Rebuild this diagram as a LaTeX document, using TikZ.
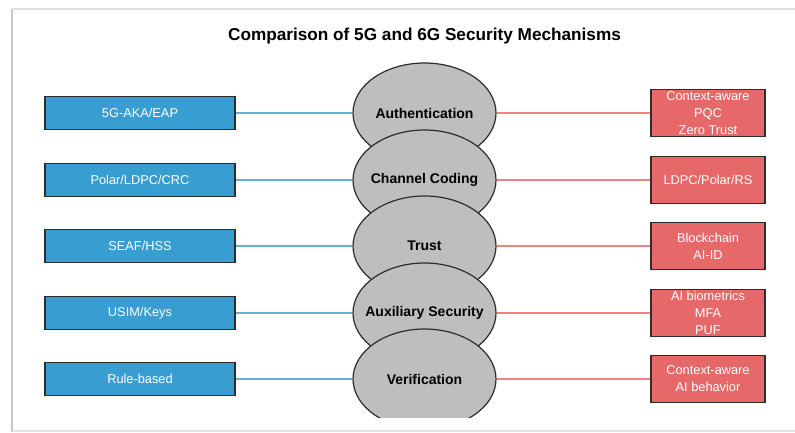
\documentclass[tikz,border=0pt]{standalone}
\usepackage{fontspec}
\setmainfont{Liberation Sans}
\usetikzlibrary{shapes.geometric}
\definecolor{CmpBlue}{RGB}{56,157,208}
\definecolor{CmpRed}{RGB}{230,104,104}
\definecolor{CmpGray}{RGB}{190,190,190}
\definecolor{CmpEdge}{RGB}{45,45,45}
\definecolor{CmpBlueLine}{RGB}{95,178,222}
\definecolor{CmpRedLine}{RGB}{240,130,130}
\newcommand{\mechname}[1]{\makebox[0pt]{#1}}
\tikzset{
  cmp/oldbox/.style={
    draw=CmpEdge,
    line width=1.3pt,
    fill=CmpBlue,
    text=white,
    align=center,
    minimum width=190pt,
    minimum height=33pt,
    inner sep=0pt,
    font=\fontsize{12.8}{15}\selectfont
  },
  cmp/newbox/.style={
    draw=CmpEdge,
    line width=1.3pt,
    fill=CmpRed,
    text=white,
    align=center,
    minimum width=114pt,
    minimum height=47pt,
    inner sep=0pt,
    font=\fontsize{12.8}{17}\selectfont
  },
  cmp/mech/.style={
    ellipse,
    draw=CmpEdge,
    line width=1.2pt,
    fill=CmpGray,
    minimum width=143pt,
    minimum height=100pt,
    inner sep=0pt,
    font=\fontsize{14}{16}\selectfont\bfseries
  },
  cmp/bluelink/.style={line width=1.6pt, draw=CmpBlueLine},
  cmp/redlink/.style={line width=1.6pt, draw=CmpRedLine},
  cmp/title/.style={font=\fontsize{17.2}{20}\selectfont\bfseries, anchor=base}
}
\begin{document}
\begin{tikzpicture}[x=1pt,y=-1pt]
  \useasboundingbox (0,0) rectangle (795,432);
  % page frame
  \draw[line width=2.5pt, black!22] (12,9) -- (12,432);
  \draw[line width=1.2pt, black!12] (12,9) -- (795,9);
  \draw[line width=1.2pt, black!10] (12,431) -- (795,431);
  \node[cmp/title] (title) at (424.5,40.5) {Comparison of 5G and 6G Security Mechanisms};
  % mechanisms
  \begin{scope}
    \clip (0,0) rectangle (795,417);
    \node[cmp/mech] (auth) at (424.5,113) {\mechname{Authentication}};
    \node[cmp/mech] (coding) at (424.5,180) {\mechname{Channel Coding}};
    \node[cmp/mech] (trust) at (424.5,246) {\mechname{Trust}};
    \node[cmp/mech] (aux) at (424.5,313) {\mechname{Auxiliary Security}};
    \node[cmp/mech] (verif) at (424.5,379) {\mechname{Verification}};
  \end{scope}
  % 5G side
  \node[cmp/oldbox] (fiveauth) at (140,113) {5G-AKA/EAP};
  \node[cmp/oldbox] (fivecoding) at (140,180) {Polar/LDPC/CRC};
  \node[cmp/oldbox] (fivetrust) at (140,246) {SEAF/HSS};
  \node[cmp/oldbox] (fiveaux) at (140,313) {USIM/Keys};
  \node[cmp/oldbox] (fiveverif) at (140,379) {Rule-based};
  % 6G side
  \node[cmp/newbox] (sixauth) at (708,113) {Context-aware\\PQC\\Zero Trust};
  \node[cmp/newbox] (sixcoding) at (708,180) {LDPC/Polar/RS};
  \node[cmp/newbox] (sixtrust) at (708,246) {Blockchain\\AI-ID};
  \node[cmp/newbox] (sixaux) at (708,313) {AI biometrics\\MFA\\PUF};
  \node[cmp/newbox] (sixverif) at (708,379) {Context-aware\\AI behavior};
  \draw[cmp/bluelink] (fiveauth) -- (auth);
  \draw[cmp/bluelink] (fivecoding) -- (coding);
  \draw[cmp/bluelink] (fivetrust) -- (trust);
  \draw[cmp/bluelink] (fiveaux) -- (aux);
  \draw[cmp/bluelink] (fiveverif) -- (verif);
  \draw[cmp/redlink] (auth) -- (sixauth);
  \draw[cmp/redlink] (coding) -- (sixcoding);
  \draw[cmp/redlink] (trust) -- (sixtrust);
  \draw[cmp/redlink] (aux) -- (sixaux);
  \draw[cmp/redlink] (verif) -- (sixverif);
\end{tikzpicture}
\end{document}
